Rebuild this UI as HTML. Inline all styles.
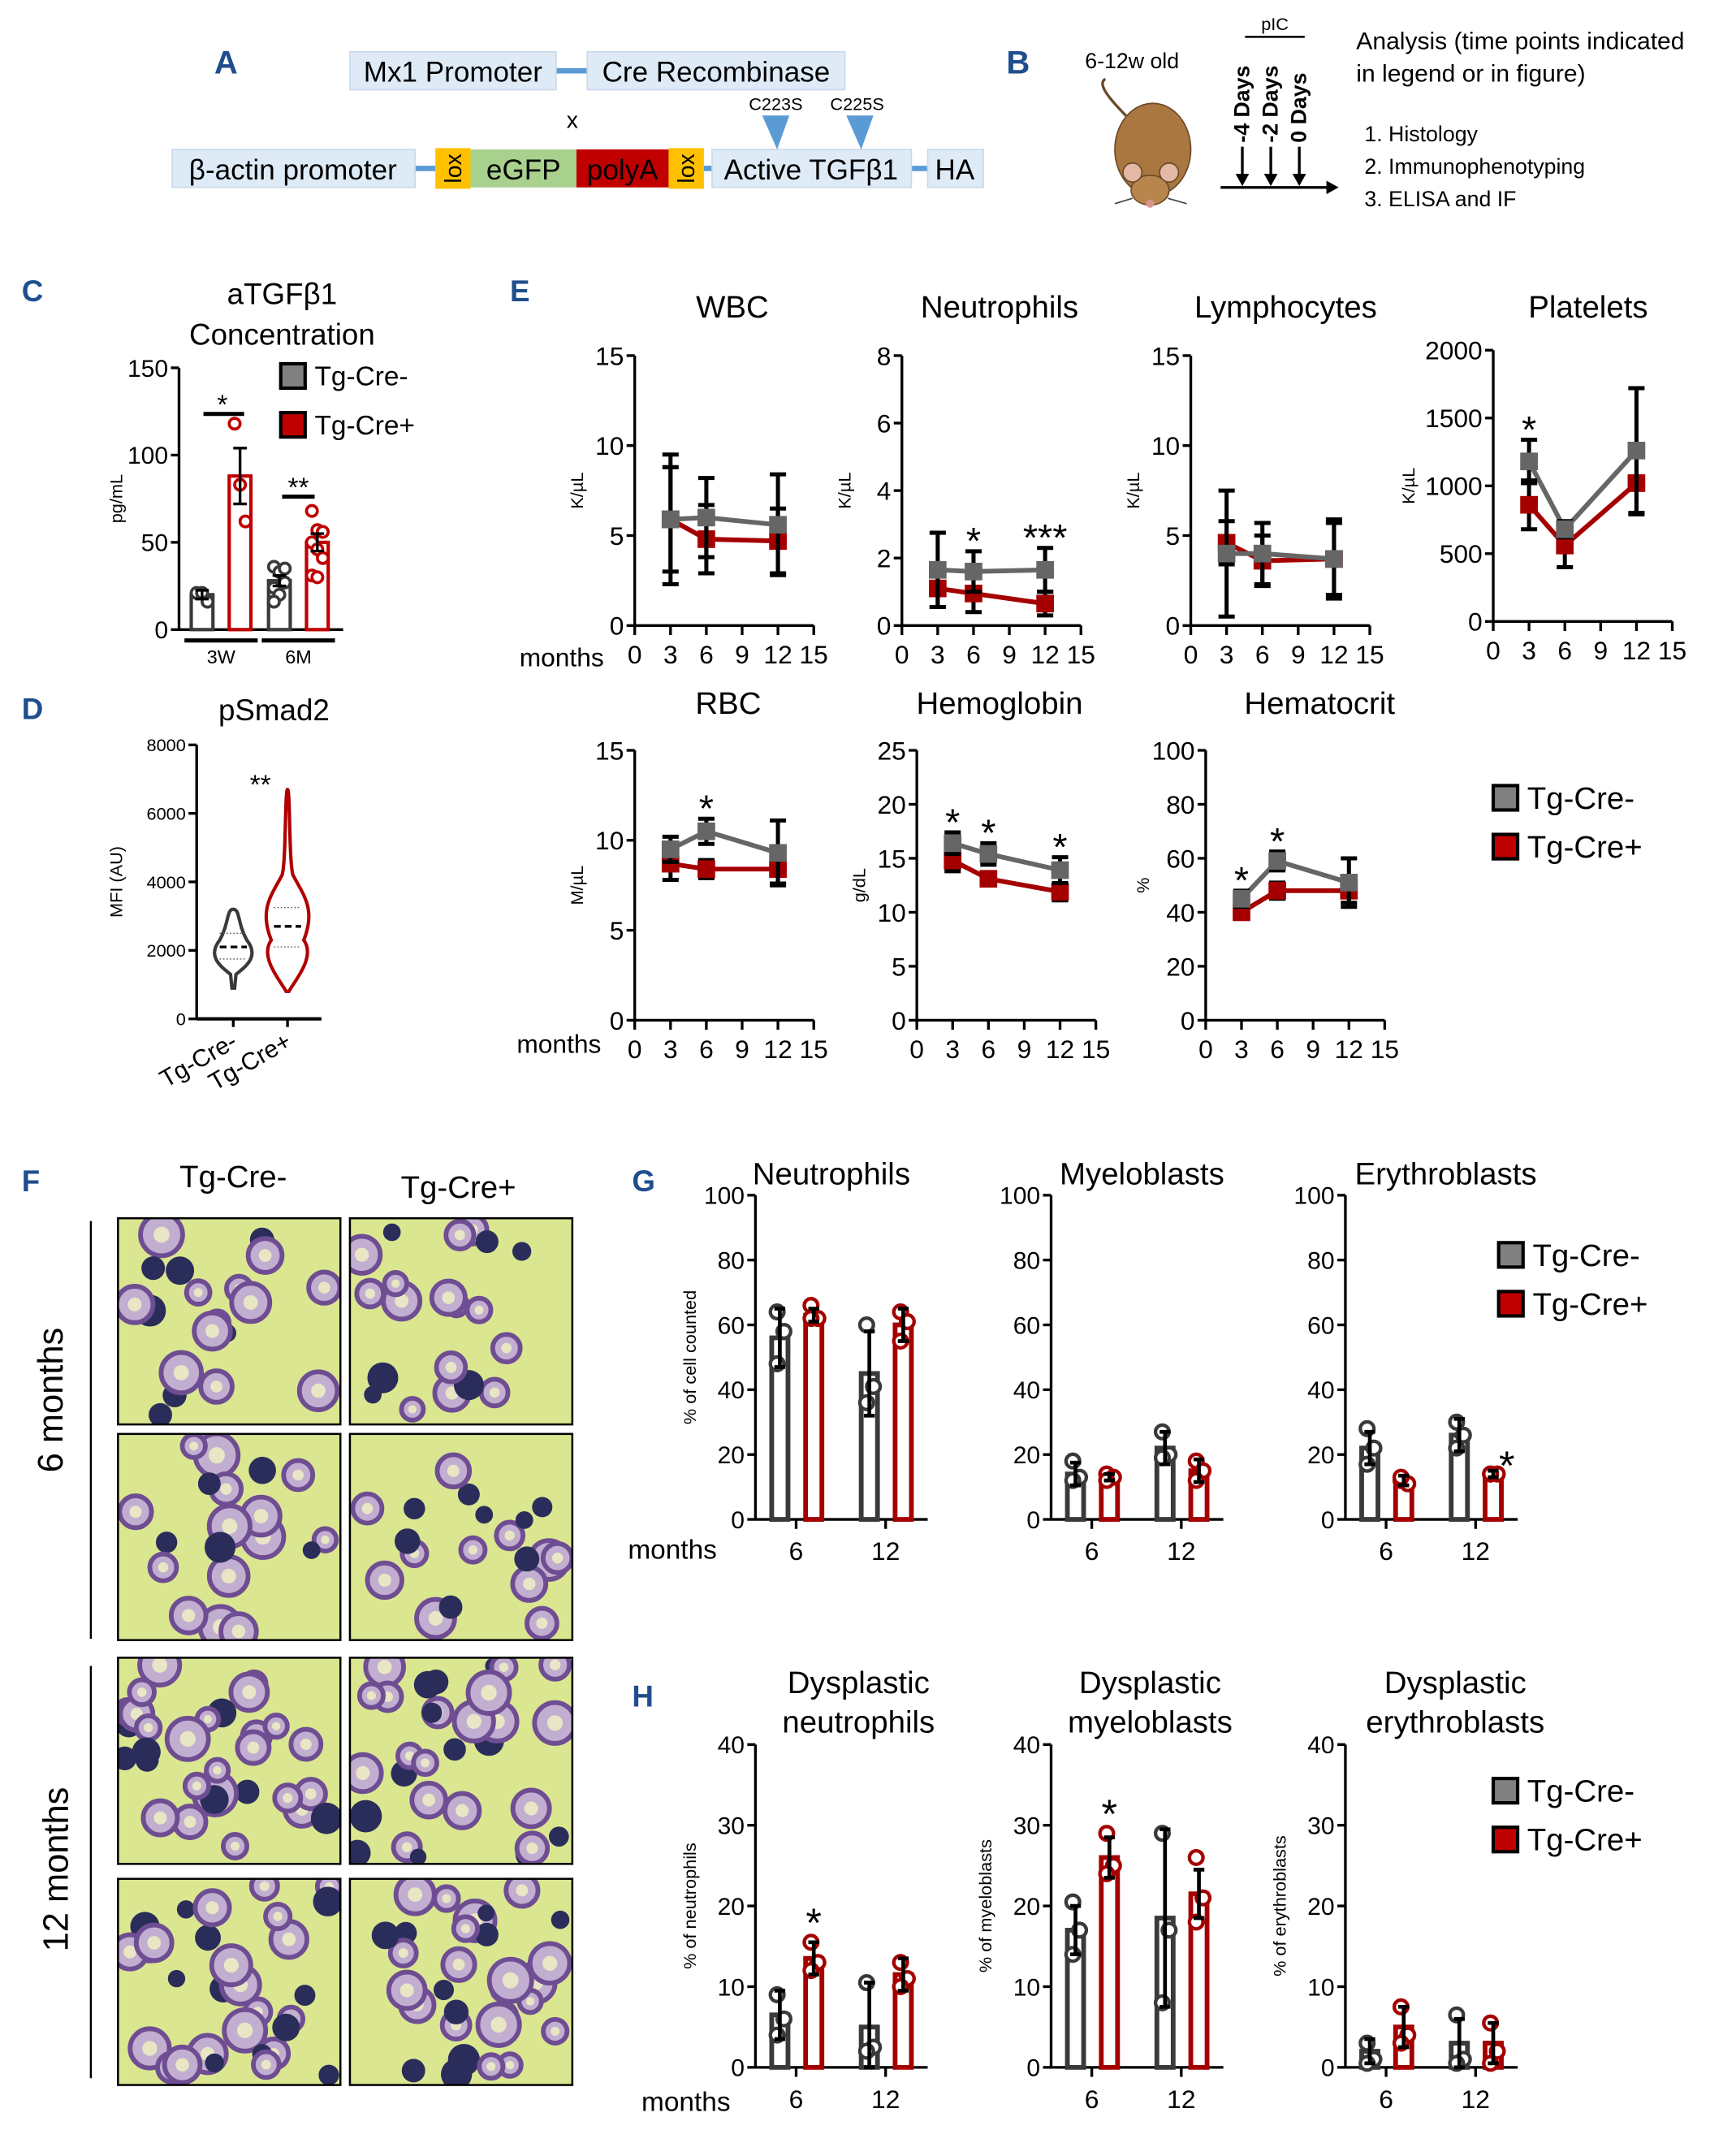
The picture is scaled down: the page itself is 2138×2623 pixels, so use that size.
<!DOCTYPE html>
<html><head><meta charset="utf-8"><title>Figure</title>
<style>
html,body{margin:0;padding:0;background:#fff}
svg{display:block}
text{font-family:"Liberation Sans",Arial,sans-serif}
</style></head>
<body>
<svg id="fig" xmlns="http://www.w3.org/2000/svg" width="2138" height="2623" viewBox="0 0 1280 1570">
<rect x="0" y="0" width="1280" height="1570" fill="#fff"/>
<g>
<text x="158" y="54" font-size="24" font-weight="bold" fill="#1f4e8c">A</text>
<line x1="410" y1="52" x2="433" y2="52" stroke="#5b9bd5" stroke-width="4"/>
<rect x="258" y="38" width="152" height="28" fill="#deebf7" stroke="#c9d9ea"/>
<text x="334" y="60" font-size="21" text-anchor="middle">Mx1 Promoter</text>
<rect x="433" y="38" width="190" height="28" fill="#deebf7" stroke="#c9d9ea"/>
<text x="528" y="60" font-size="21" text-anchor="middle">Cre Recombinase</text>
<text x="422" y="94" font-size="17" text-anchor="middle">x</text>
<line x1="306" y1="124" x2="321" y2="124" stroke="#5b9bd5" stroke-width="4"/>
<line x1="519" y1="124" x2="525" y2="124" stroke="#5b9bd5" stroke-width="4"/>
<line x1="672" y1="124" x2="684" y2="124" stroke="#5b9bd5" stroke-width="4"/>
<rect x="127" y="110" width="179" height="28" fill="#deebf7" stroke="#c9d9ea"/>
<text x="216" y="132" font-size="21" text-anchor="middle">β-actin promoter</text>
<rect x="321" y="109" width="26" height="30" fill="#ffc000"/>
<text transform="translate(340,124) rotate(-90)" font-size="17" text-anchor="middle">lox</text>
<rect x="347" y="110" width="78" height="28" fill="#a9d18e"/>
<text x="386" y="132" font-size="21" text-anchor="middle">eGFP</text>
<rect x="425" y="110" width="68" height="28" fill="#c00000"/>
<text x="459" y="132" font-size="21" text-anchor="middle">polyA</text>
<rect x="493" y="109" width="26" height="30" fill="#ffc000"/>
<text transform="translate(512,124) rotate(-90)" font-size="17" text-anchor="middle">lox</text>
<rect x="525" y="110" width="147" height="28" fill="#deebf7" stroke="#c9d9ea"/>
<text x="598" y="132" font-size="21" text-anchor="middle">Active TGFβ1</text>
<rect x="684" y="110" width="41" height="28" fill="#deebf7" stroke="#c9d9ea"/>
<text x="704" y="132" font-size="21" text-anchor="middle">HA</text>
<polygon points="562,85 582,85 573,110" fill="#5b9bd5"/>
<polygon points="624,85 644,85 635,110" fill="#5b9bd5"/>
<text x="572" y="81" font-size="13" text-anchor="middle">C223S</text>
<text x="632" y="81" font-size="13" text-anchor="middle">C225S</text>
</g>
<g>
<text x="742" y="54" font-size="24" font-weight="bold" fill="#1f4e8c">B</text>
<text x="800" y="50" font-size="16">6-12w old</text>
<g>
<path d="M835,90 C820,75 808,62 815,58" stroke="#6b4a2a" stroke-width="2" fill="none"/>
<ellipse cx="850" cy="110" rx="28" ry="34" fill="#a9773f" stroke="#6b4a2a"/>
<ellipse cx="848" cy="140" rx="14" ry="11" fill="#b8864c" stroke="#6b4a2a"/>
<circle cx="835" cy="127" r="7" fill="#e3b8a5" stroke="#6b4a2a"/>
<circle cx="862" cy="127" r="7" fill="#e3b8a5" stroke="#6b4a2a"/>
<circle cx="848" cy="150" r="3" fill="#d9968f"/>
<line x1="835" y1="146" x2="822" y2="150" stroke="#444"/><line x1="861" y1="146" x2="875" y2="150" stroke="#444"/>
</g>
<text x="940" y="22" font-size="13" text-anchor="middle">pIC</text>
<line x1="918" y1="27" x2="962" y2="27" stroke="#000" stroke-width="1.5"/>
<text transform="translate(921,105) rotate(-90)" font-size="16" font-weight="bold">-4 Days</text>
<text transform="translate(942,105) rotate(-90)" font-size="16" font-weight="bold">-2 Days</text>
<text transform="translate(963,105) rotate(-90)" font-size="16" font-weight="bold">0 Days</text>
<g stroke="#000" stroke-width="2">
<line x1="916" y1="108" x2="916" y2="132"/><line x1="937" y1="108" x2="937" y2="132"/><line x1="958" y1="108" x2="958" y2="132"/>
<line x1="900" y1="138" x2="980" y2="138"/>
</g>
<g fill="#000"><polygon points="911,128 921,128 916,137"/><polygon points="932,128 942,128 937,137"/><polygon points="953,128 963,128 958,137"/><polygon points="978,133 987,138 978,143"/></g>
<text x="1000" y="36" font-size="18">Analysis (time points indicated</text>
<text x="1000" y="60" font-size="18">in legend or in figure)</text>
<text x="1006" y="104" font-size="16">1. Histology</text>
<text x="1006" y="128" font-size="16">2. Immunophenotyping</text>
<text x="1006" y="152" font-size="16">3. ELISA and IF</text>
</g>
<text x="16" y="222" font-size="22" font-weight="bold" fill="#1f4e8c">C</text>
<text x="16" y="530" font-size="22" font-weight="bold" fill="#1f4e8c">D</text>
<text x="376" y="222" font-size="22" font-weight="bold" fill="#1f4e8c">E</text>
<text x="16" y="878" font-size="22" font-weight="bold" fill="#1f4e8c">F</text>
<text x="466" y="878" font-size="22" font-weight="bold" fill="#1f4e8c">G</text>
<text x="466" y="1258" font-size="22" font-weight="bold" fill="#1f4e8c">H</text>
<g id="dyn"></g>
</svg>
<script>
const months=[3,6,12];
const wbcGray=[5.9,6.0,5.6], wbcGrayErr=[3.6,2.2,2.8], wbcRed=[5.9,4.8,4.7], wbcRedErr=[2.9,1.9,1.8];
const neuGray=[1.65,1.6,1.65], neuGrayErr=[1.1,0.6,0.65], neuRed=[1.1,0.95,0.65], neuRedErr=[0.55,0.55,0.35];
const lymGray=[4.0,4.0,3.7], lymGrayErr=[3.5,1.7,2.2], lymRed=[4.6,3.6,3.7], lymRedErr=[1.2,1.4,2.0];
const pltGray=[1180,680,1260], pltGrayErr=[160,60,460], pltRed=[860,560,1020], pltRedErr=[180,160,230];
const rbcGray=[9.5,10.5,9.3], rbcGrayErr=[0.7,0.7,1.8], rbcRed=[8.7,8.4,8.4], rbcRedErr=[0.9,0.5,0.8];
const hgbGray=[16.4,15.4,13.9], hgbGrayErr=[1.0,1.0,1.2], hgbRed=[14.8,13.1,11.9], hgbRedErr=[1.0,0.6,0.8];
const hctGray=[45,59,51], hctGrayErr=[3,3.5,9], hctRed=[40,48,48], hctRedErr=[2,3,4.5];
const tickLinear15=[0,5,10,15], tickNeu=[0,2,4,6,8], tickPlt=[0,500,1000,1500,2000], tickHgb=[0,5,10,15,20,25], tickHct=[0,20,40,60,80,100];
const xMonthTicks=[0,3,6,9,12,15];
const cGroups=['3W','6M'];
const cGray=[20,28], cGrayErr=[2.5,3], cRed=[88,50], cRedErr=[16,5];
const cGrayPts=[[21,21,16],[36,33,27,24,20,35,16]];
const cRedPts=[[118,83,62],[68,57,56,50,46,41,31,30]];
const cTicks=[0,50,100,150];
const dTicks=[0,2000,4000,6000,8000];
const dGrayRange=[900,3200], dGrayMedian=2100, dGrayQ=[1750,2500];
const dRedRange=[800,6700], dRedMedian=2700, dRedQ=[2100,3250];
const gMonths=['6','12'];
const gNeuGray=[56,45], gNeuGrayErr=[9,13], gNeuRed=[63,60], gNeuRedErr=[2,5];
const gNeuGrayPts=[[64,58,48],[60,41,36]], gNeuRedPts=[[66,62,62],[64,61,55]];
const gMyeGray=[14,22], gMyeGrayErr=[3.5,5], gMyeRed=[13,15], gMyeRedErr=[1,3.5];
const gMyeGrayPts=[[18,13,12],[27,20,19]], gMyeRedPts=[[14,13,12],[18,15,12]];
const gEryGray=[22,26], gEryGrayErr=[5,5], gEryRed=[12,14], gEryRedErr=[1.5,1];
const gEryGrayPts=[[28,22,17],[30,26,22]], gEryRedPts=[[12,11,13],[14,14,14]];
const gTicks=[0,20,40,60,80,100];
const hNeuGray=[6.5,5], hNeuGrayErr=[3,5.5], hNeuRed=[13.5,11.5], hNeuRedErr=[2,2];
const hNeuGrayPts=[[9,6,4],[10.5,2.5,2]], hNeuRedPts=[[15.5,13,12],[13,11,10]];
const hMyeGray=[17,18.5], hMyeGrayErr=[3,11], hMyeRed=[26,21.5], hMyeRedErr=[2.5,3];
const hMyeGrayPts=[[20.5,17,14],[29,17,8]], hMyeRedPts=[[29,25,24],[26,21,18]];
const hEryGray=[2,3], hEryGrayErr=[1.5,3], hEryRed=[5,3], hEryRedErr=[2.5,2.5];
const hEryGrayPts=[[3,1,0.5],[6.5,1,0.5]], hEryRedPts=[[7.5,4,3],[5.5,2,0.5]];
const hTicks=[0,10,20,30,40];

const NS='http://www.w3.org/2000/svg';
const root=document.getElementById('dyn');
function mk(tag,attrs,parent,txt){const e=document.createElementNS(NS,tag);for(const k in attrs)e.setAttribute(k,attrs[k]);if(txt!==undefined)e.textContent=txt;(parent||root).appendChild(e);return e;}
const GRAY='#666666', RED='#a50000', DGRAY='#3a3a3a';

function yAxis(g,x0,yTop,yBot,max,ticks,fs){
  const ys=v=>yBot-(v/max)*(yBot-yTop);
  const ax=mk('line',{x1:x0,y1:yTop,x2:x0,y2:yBot,stroke:'#000','stroke-width':2},g);
  
  
  ticks.forEach(t=>{
    mk('line',{x1:x0-6,y1:ys(t),x2:x0,y2:ys(t),stroke:'#000','stroke-width':2},g);
    const tl=mk('text',{x:x0-8,y:ys(t)+fs*0.36,'font-size':fs,'text-anchor':'end'},g,String(t));
    
    
  });
  return ys;
}

function lineChart(name,x0,yTop,yBot,max,ticks,title,titleDx,ylabel,ylDx,gray,grayErr,red,redErr,stars){
  const g=mk('g',{},root);
  
  
  const W=132;
  const xs=m=>x0+(m/15)*W;
  const ys=yAxis(g,x0,yTop,yBot,max,ticks,19);
  mk('line',{x1:x0,y1:yBot,x2:x0+W,y2:yBot,stroke:'#000','stroke-width':2},g);
  xMonthTicks.forEach(t=>{
    mk('line',{x1:xs(t),y1:yBot,x2:xs(t),y2:yBot+7,stroke:'#000','stroke-width':2},g);
    const tl=mk('text',{x:xs(t),y:yBot+28,'font-size':19,'text-anchor':'middle'},g,String(t));
    
    
  });
  const tt=mk('text',{x:x0+titleDx,y:(yTop<300?234:526),'font-size':23,'text-anchor':'middle'},g,title);
  
  
  const yl=mk('text',{transform:`translate(${x0-ylDx},${(yTop+yBot)/2}) rotate(-90)`,'font-size':13,'text-anchor':'middle'},g,ylabel);
  
  
  [[red,RED,'red'],[gray,GRAY,'gray']].forEach(([vals,col,nm])=>{
    const pts=months.map((m,i)=>xs(m)+','+ys(vals[i])).join(' ');
    const pl=mk('polyline',{points:pts,fill:'none',stroke:col,'stroke-width':3.5},g);
    
    
  });
  [[red,redErr,RED,'red'],[gray,grayErr,GRAY,'gray']].forEach(([vals,errs,col,nm])=>{
    months.forEach((m,i)=>{
      const x=xs(m),y1=ys(vals[i]+errs[i]),y2=ys(Math.max(0,vals[i]-errs[i]));
      const eb=mk('path',{d:`M${x},${y1}V${y2}M${x-6},${y1}H${x+6}M${x-6},${y2}H${x+6}`,stroke:'#000','stroke-width':3,fill:'none'},g);
      
      
      const sq=mk('rect',{x:x-6.5,y:ys(vals[i])-6.5,width:13,height:13,fill:col},g);
      
      
    });
  });
  (stars||[]).forEach(([i,s])=>{
    const top=ys(Math.max(gray[i]+grayErr[i],red[i]+redErr[i]));
    const st=mk('text',{x:xs(months[i]),y:top+2,'font-size':28,'text-anchor':'middle'},g,s);
    
    
  });
}

lineChart('wbc',468,262,461,15,tickLinear15,'WBC',72,'K/µL',38,wbcGray,wbcGrayErr,wbcRed,wbcRedErr,[]);
lineChart('neutrophils',665,262,461,8,tickNeu,'Neutrophils',72,'K/µL',38,neuGray,neuGrayErr,neuRed,neuRedErr,[[1,'*'],[2,'***']]);
lineChart('lymphocytes',878,262,461,15,tickLinear15,'Lymphocytes',70,'K/µL',38,lymGray,lymGrayErr,lymRed,lymRedErr,[]);
lineChart('platelets',1101,258,458,2000,tickPlt,'Platelets',70,'K/µL',58,pltGray,pltGrayErr,pltRed,pltRedErr,[[0,'*']]);
lineChart('rbc',468,553,752,15,tickLinear15,'RBC',69,'M/µL',38,rbcGray,rbcGrayErr,rbcRed,rbcRedErr,[[1,'*']]);
lineChart('hemoglobin',676,553,752,25,tickHgb,'Hemoglobin',61,'g/dL',38,hgbGray,hgbGrayErr,hgbRed,hgbRedErr,[[0,'*'],[1,'*'],[2,'*']]);
lineChart('hematocrit',889,553,752,100,tickHct,'Hematocrit',84,'%',42,hctGray,hctGrayErr,hctRed,hctRedErr,[[0,'*'],[1,'*']]);
{
  const m1=mk('text',{x:383,y:491,'font-size':19},root,'months');
  
  
  const m2=mk('text',{x:381,y:776,'font-size':19},root,'months');
  
  
}

function legend(x,y,gap,fs){
  const g=mk('g',{},root);
  
  
  [['Tg-Cre-','#808080'],['Tg-Cre+','#c00000']].forEach(([t,c],i)=>{
    const r=mk('rect',{x:x,y:y+i*gap-9,width:18,height:18,fill:c,stroke:'#000','stroke-width':2.5},g);
    
    
    const tx=mk('text',{x:x+25,y:y+i*gap+fs*0.35,'font-size':fs},g,t);
    
    
  });
}
legend(1101,588,36,23);
legend(207,277,36,20);
legend(1105,925,36,23);
legend(1101,1320,36,23);

{
  const g=mk('g',{},root);
  
  
  const x0=132,yTop=271,yBot=464;
  const ys=yAxis(g,x0,yTop,yBot,150,cTicks,18);
  mk('line',{x1:x0,y1:yBot,x2:253,y2:yBot,stroke:'#000','stroke-width':2},g);
  mk('text',{x:208,y:224,'font-size':22,'text-anchor':'middle'},g,'aTGFβ1');
  mk('text',{x:208,y:254,'font-size':22,'text-anchor':'middle'},g,'Concentration');
  mk('text',{transform:`translate(90,${(yTop+yBot)/2}) rotate(-90)`,'font-size':13,'text-anchor':'middle'},g,'pg/mL');
  const grayX=[149,206], redX=[177,234];
  cGroups.forEach((lab,i)=>{
    [[cGray,cGrayErr,cGrayPts,grayX,DGRAY,'gray'],[cRed,cRedErr,cRedPts,redX,'#c00000','red']].forEach(([v,e,p,xx,col,nm])=>{
      const b=mk('rect',{x:xx[i]-8,y:ys(v[i]),width:16,height:yBot-ys(v[i]),fill:'none',stroke:col,'stroke-width':2.5},g);
      
      
      p[i].forEach((pv,k)=>{
        const c=mk('circle',{cx:xx[i]+((k%3)-1)*4,cy:ys(pv),r:4,fill:'#fff',stroke:col,'stroke-width':2.2},g);
        
        
      });
      const eb=mk('path',{d:`M${xx[i]},${ys(v[i]+e[i])}V${ys(v[i]-e[i])}M${xx[i]-5},${ys(v[i]+e[i])}H${xx[i]+5}M${xx[i]-5},${ys(v[i]-e[i])}H${xx[i]+5}`,stroke:'#000','stroke-width':2,fill:'none'},g);
      
      
    });
    const cx=(grayX[i]+redX[i])/2;
    mk('line',{x1:grayX[i]-13,y1:yBot+8,x2:redX[i]+13,y2:yBot+8,stroke:'#000','stroke-width':3},g);
    const tl=mk('text',{x:cx,y:yBot+25,'font-size':14,'text-anchor':'middle'},g,lab);
    
    
  });
  mk('line',{x1:150,y1:305,x2:180,y2:305,stroke:'#000','stroke-width':3},g);
  mk('text',{x:164,y:305,'font-size':20,'text-anchor':'middle'},g,'*');
  mk('line',{x1:208,y1:366,x2:232,y2:366,stroke:'#000','stroke-width':3},g);
  mk('text',{x:220,y:366,'font-size':20,'text-anchor':'middle'},g,'**');
}

{
  const g=mk('g',{},root);
  
  
  const x0=145,yTop=549,yBot=751;
  const ys=yAxis(g,x0,yTop,yBot,8000,dTicks,13);
  mk('line',{x1:x0,y1:yBot,x2:237,y2:yBot,stroke:'#000','stroke-width':2.5},g);
  mk('text',{x:202,y:531,'font-size':22,'text-anchor':'middle'},g,'pSmad2');
  mk('text',{transform:`translate(90,${(yTop+yBot)/2}) rotate(-90)`,'font-size':13,'text-anchor':'middle'},g,'MFI (AU)');
  mk('text',{x:192,y:585,'font-size':20,'text-anchor':'middle'},g,'**');
  [[172,dGrayRange,dGrayMedian,dGrayQ,DGRAY,'gray','Tg-Cre-'],[212,dRedRange,dRedMedian,dRedQ,'#b00000','red','Tg-Cre+']].forEach(([cx,rng,med,q,col,nm,lab])=>{
    const top=ys(rng[1]),bot=ys(rng[0]),ym=ys(med);
    const w=nm==='gray'?20:21;
    const d=nm==='gray'
      ? `M${cx},${top} C${cx+5},${top} ${cx+3},${ys(2800)} ${cx+10},${ys(2300)} C${cx+w},${ys(1800)} ${cx+8},${ys(1500)} ${cx+2},${ys(1300)} L${cx+1},${bot} L${cx-1},${bot} L${cx-2},${ys(1300)} C${cx-8},${ys(1500)} ${cx-w},${ys(1800)} ${cx-10},${ys(2300)} C${cx-3},${ys(2800)} ${cx-5},${top} ${cx},${top}Z`
      : `M${cx},${top} C${cx+2},${top} ${cx+1},${ys(4600)} ${cx+4},${ys(4200)} C${cx+12},${ys(3600)} ${cx+w},${ys(3200)} ${cx+12},${ys(2300)} C${cx+w},${ys(1800)} ${cx+5},${ys(1100)} ${cx+1},${bot} L${cx-1},${bot} C${cx-5},${ys(1100)} ${cx-w},${ys(1800)} ${cx-12},${ys(2300)} C${cx-w},${ys(3200)} ${cx-12},${ys(3600)} ${cx-4},${ys(4200)} C${cx-1},${ys(4600)} ${cx-2},${top} ${cx},${top}Z`;
    const v=mk('path',{d:d,fill:'#fff',stroke:col,'stroke-width':2.5},g);
    
    
    mk('line',{x1:cx-10,y1:ym,x2:cx+10,y2:ym,stroke:'#000','stroke-width':2,'stroke-dasharray':'5,3'},g);
    q.forEach(qq=>mk('line',{x1:cx-10,y1:ys(qq),x2:cx+10,y2:ys(qq),stroke:'#555','stroke-width':0.8,'stroke-dasharray':'1,1.5'},g));
    mk('line',{x1:cx,y1:yBot,x2:cx,y2:yBot+6,stroke:'#000','stroke-width':2},g);
    const tl=mk('text',{transform:`translate(${cx+4},${yBot+20}) rotate(-30)`,'font-size':18,'text-anchor':'end'},g,lab);
    
    
  });
}

function barChart(name,x0,yTop,yBot,max,ticks,titles,titleDx,ylabel,gray,grayErr,red,redErr,grayPts,redPts,stars){
  const g=mk('g',{},root);
  
  
  const ys=yAxis(g,x0,yTop,yBot,max,ticks,18);
  mk('line',{x1:x0,y1:yBot,x2:x0+127,y2:yBot,stroke:'#000','stroke-width':2},g);
  titles.forEach((t,i)=>{
    const tt=mk('text',{x:x0+titleDx,y:(titles.length===1?yTop-8:yTop-38+i*29),'font-size':23,'text-anchor':'middle'},g,t);
    
    
  });
  if(ylabel){const yl=mk('text',{transform:`translate(${x0-44},${(yTop+yBot)/2}) rotate(-90)`,'font-size':13,'text-anchor':'middle'},g,ylabel);
    
    }
  const tickX=[x0+30,x0+96], grayOff=[18,84], redOff=[43,109];
  gMonths.forEach((lab,i)=>{
    mk('line',{x1:tickX[i],y1:yBot,x2:tickX[i],y2:yBot+7,stroke:'#000','stroke-width':2},g);
    const tl=mk('text',{x:tickX[i],y:yBot+30,'font-size':19,'text-anchor':'middle'},g,lab);
    
    
    [[gray,grayErr,grayPts,grayOff,DGRAY,'gray'],[red,redErr,redPts,redOff,'#a50000','red']].forEach(([v,e,p,off,col,nm])=>{
      const cx=x0+off[i];
      const b=mk('rect',{x:cx-6,y:ys(v[i]),width:12,height:yBot-ys(v[i]),fill:'none',stroke:col,'stroke-width':3.5},g);
      
      
      p[i].forEach((pv,k)=>{
        const c=mk('circle',{cx:cx+((k%2)?3:-2),cy:ys(pv),r:5,fill:'#fff',stroke:col,'stroke-width':2.6},g);
        
        
      });
      const y1=ys(v[i]+e[i]),y2=ys(Math.max(0,v[i]-e[i]));
      const eb=mk('path',{d:`M${cx},${y1}V${y2}M${cx-4},${y1}H${cx+4}M${cx-4},${y2}H${cx+4}`,stroke:'#000','stroke-width':2.8,fill:'none'},g);
      
      
    });
  });
  (stars||[]).forEach(i=>{
    const cx=x0+redOff[i];
    const st=mk('text',{x:cx+(i===1&&name==='erythroblasts'?10:0),y:ys(Math.max(...redPts[i]))-(name==='erythroblasts'?-4:4),'font-size':30,'text-anchor':'middle'},g,'*');
    
    
  });
}
barChart('neutrophils-g',557,881,1120,100,gTicks,['Neutrophils'],56,'% of cell counted',gNeuGray,gNeuGrayErr,gNeuRed,gNeuRedErr,gNeuGrayPts,gNeuRedPts,[]);
barChart('myeloblasts',775,881,1120,100,gTicks,['Myeloblasts'],67,'',gMyeGray,gMyeGrayErr,gMyeRed,gMyeRedErr,gMyeGrayPts,gMyeRedPts,[]);
barChart('erythroblasts',992,881,1120,100,gTicks,['Erythroblasts'],74,'',gEryGray,gEryGrayErr,gEryRed,gEryRedErr,gEryGrayPts,gEryRedPts,[1]);
barChart('dysplastic-neutrophils',557,1286,1524,40,hTicks,['Dysplastic','neutrophils'],76,'% of neutrophils',hNeuGray,hNeuGrayErr,hNeuRed,hNeuRedErr,hNeuGrayPts,hNeuRedPts,[0]);
barChart('dysplastic-myeloblasts',775,1286,1524,40,hTicks,['Dysplastic','myeloblasts'],73,'% of myeloblasts',hMyeGray,hMyeGrayErr,hMyeRed,hMyeRedErr,hMyeGrayPts,hMyeRedPts,[0]);
barChart('dysplastic-erythroblasts',992,1286,1524,40,hTicks,['Dysplastic','erythroblasts'],81,'% of erythroblasts',hEryGray,hEryGrayErr,hEryRed,hEryRedErr,hEryGrayPts,hEryRedPts,[]);
{
  const m1=mk('text',{x:463,y:1149,'font-size':20},root,'months');
  
  
  const m2=mk('text',{x:473,y:1556,'font-size':20},root,'months');
  
  
}

{
  const g=mk('g',{},root);
  
  
  mk('text',{x:172,y:875,'font-size':23,'text-anchor':'middle'},g,'Tg-Cre-');
  mk('text',{x:338,y:883,'font-size':23,'text-anchor':'middle'},g,'Tg-Cre+');
  mk('line',{x1:67,y1:900,x2:67,y2:1208,stroke:'#000','stroke-width':1.5},g);
  mk('line',{x1:67,y1:1228,x2:67,y2:1532,stroke:'#000','stroke-width':1.5},g);
  mk('text',{transform:'translate(46,1032) rotate(-90)','font-size':26,'text-anchor':'middle'},g,'6 months');
  mk('text',{transform:'translate(50,1378) rotate(-90)','font-size':26,'text-anchor':'middle'},g,'12 months');
  const tiles=[[87,898],[258,898],[87,1057],[258,1057],[87,1222],[258,1222],[87,1385],[258,1385]];
  let seed=7;
  const rnd=()=>{seed=(seed*9301+49297)%233280;return seed/233280;};
  tiles.forEach(([x,y],ti)=>{
    const t=mk('g',{},g);
    
    
    mk('rect',{x:x,y:y,width:164,height:152,fill:'#dbe690'},t);
    const cp=mk('clipPath',{id:'clip'+ti},t);
    mk('rect',{x:x,y:y,width:164,height:152},cp);
    const inner=mk('g',{'clip-path':`url(#clip${ti})`},t);
    const n=ti>=4?30:20;
    for(let k=0;k<n;k++){
      const cx=x+5+rnd()*154, cy=y+5+rnd()*142, r=8+rnd()*8;
      if(rnd()<0.28){
        mk('circle',{cx:cx,cy:cy,r:r*0.75,fill:'#2a2d5a'},inner);
      }else{
        mk('circle',{cx:cx,cy:cy,r:r,fill:'#c2aed0',stroke:'#6e4d92','stroke-width':3.5},inner);
        mk('circle',{cx:cx,cy:cy,r:r*0.38,fill:'#e8e6c4'},inner);
      }
    }
    mk('rect',{x:x,y:y,width:164,height:152,fill:'none',stroke:'#000','stroke-width':1.5},t);
  });
}
</script>
</body></html>
